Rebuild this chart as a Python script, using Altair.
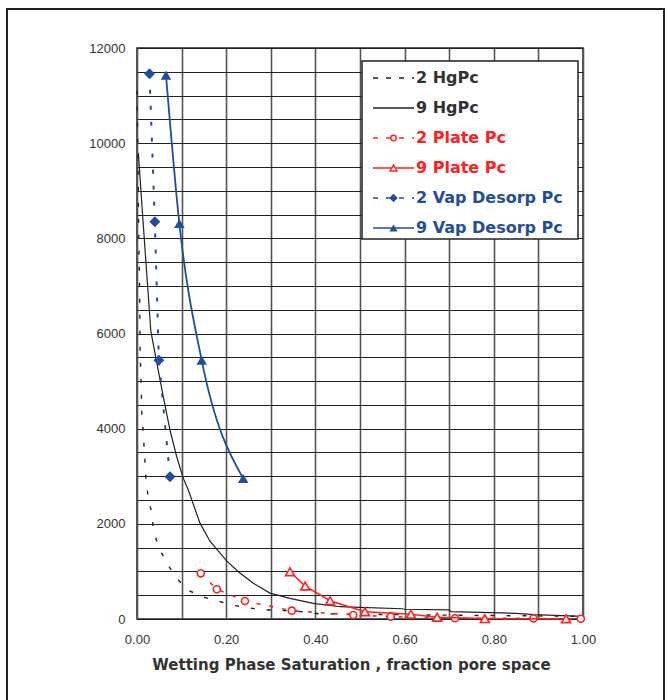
import altair as alt
import pandas as pd

# ---------------- data ----------------
hg2_sw = [0.000, 0.002, 0.004, 0.006, 0.007, 0.009, 0.011, 0.014, 0.016, 0.018, 0.020, 0.025,
          0.033, 0.037, 0.048, 0.067, 0.089, 0.113, 0.149, 0.186, 0.221, 0.257, 0.294, 0.336,
          0.369, 0.407, 0.500, 0.600, 0.700, 0.800, 0.900, 1.000]
hg2_pc = [11100, 9800, 8000, 6800, 5650, 4980, 4250, 3935, 3590, 3280, 2920, 2570,
          2220, 1870, 1520, 1170, 860, 610, 460, 365, 280, 225, 190, 175,
          155, 110, 100, 90, 80, 72, 65, 55]

hg9_sw = [0.003, 0.017, 0.031, 0.044, 0.059, 0.074, 0.089, 0.104, 0.115, 0.141, 0.164, 0.201,
          0.227, 0.261, 0.298, 0.343, 0.395, 0.455, 0.500, 0.595, 0.600, 0.700, 0.705, 0.850,
          0.890, 1.000]
hg9_pc = [9790, 7900, 6050, 5405, 4670, 3970, 3410, 2955, 2710, 2020, 1630, 1220,
          994, 750, 545, 435, 330, 258, 245, 215, 205, 190, 155, 120,
          90, 55]

plate2_sw = [0.143, 0.179, 0.242, 0.347, 0.485, 0.569, 0.713, 0.889, 0.995]
plate2_pc = [960, 624, 378, 175, 84, 50, 15, 12, 5]

plate9_sw = [0.343, 0.377, 0.433, 0.511, 0.614, 0.673, 0.780, 0.962]
plate9_pc = [994, 693, 384, 153, 99, 36, 8, 6]

vap2_sw = [0.028, 0.040, 0.049, 0.074]
vap2_pc = [11460, 8350, 5440, 2990]

vap9_sw = [0.065, 0.095, 0.145, 0.238]
vap9_pc = [11430, 8310, 5440, 2955]

series_names = ["2 HgPc", "9 HgPc", "2 Plate Pc", "9 Plate Pc", "2 Vap Desorp Pc", "9 Vap Desorp Pc"]
x_ticks = [round(i * 0.1, 1) for i in range(11)]
y_ticks = list(range(0, 12001, 500))

# ---------------- styling ----------------
BLACK = "#222222"
RED = "#ff2020"
BLUE = "#1f4e9e"

styles = [
    dict(sw=hg2_sw, pc=hg2_pc, color=BLACK, dash=[4, 12], width=1.4, shape=None, filled=False, size=0, interp="linear", ldash=[5, 8]),
    dict(sw=hg9_sw, pc=hg9_pc, color=BLACK, dash=None, width=1.2, shape=None, filled=False, size=0, interp="linear", ldash=None),
    dict(sw=plate2_sw, pc=plate2_pc, color=RED, dash=[4, 9], width=1.6, shape="circle", filled=False, size=50, interp="linear", ldash=[5, 8]),
    dict(sw=plate9_sw, pc=plate9_pc, color=RED, dash=None, width=1.5, shape="triangle-up", filled=False, size=80, interp="linear", ldash=None),
    dict(sw=vap2_sw, pc=vap2_pc, color=BLUE, dash=[4, 12], width=2.0, shape="diamond", filled=True, size=120, interp="linear", ldash=[5, 8]),
    dict(sw=vap9_sw, pc=vap9_pc, color=BLUE, dash=None, width=1.8, shape="triangle-up", filled=True, size=110, interp="monotone", ldash=None),
]

FONT = "Liberation Sans"
BOLDFONT = "DejaVu Sans"

x_enc = alt.X(
    "sw:Q",
    scale=alt.Scale(domain=[0, 1], nice=False, zero=False),
    axis=alt.Axis(
        values=x_ticks, format=".2f",
        labelExpr="round(datum.value*10) % 2 == 0 ? datum.label : ''",
        labelFlush=False,
        ticks=False, domain=False, labelPadding=14, labelFontSize=13, labelColor="#333333",
        labelFont=FONT, gridColor="#555555", gridWidth=1.6,
        title="Wetting Phase Saturation , fraction pore space",
        titleFont=BOLDFONT, titleFontSize=15, titleFontWeight="bold", titleColor="#333333",
        titlePadding=11, titleX=214,
    ),
)
y_enc = alt.Y(
    "pc:Q",
    scale=alt.Scale(domain=[0, 12000], nice=False),
    axis=alt.Axis(
        values=y_ticks, format="d",
        labelExpr="datum.value % 2000 == 0 ? datum.label : ''",
        labelFlush=False,
        ticks=False, domain=False, labelPadding=12, labelFontSize=13, labelColor="#333333",
        labelFont=FONT, gridColor="#222222", gridWidth=1, title=None,
    ),
)

layers = []
for name, st in zip(series_names, styles):
    df = pd.DataFrame({"sw": st["sw"], "pc": st["pc"], "i": range(len(st["sw"]))})
    line_kw = dict(color=st["color"], strokeWidth=st["width"], interpolate=st["interp"])
    if st["dash"]:
        line_kw["strokeDash"] = st["dash"]
    base = alt.Chart(df).encode(x=x_enc, y=y_enc, order="i:Q")
    layers.append(base.mark_line(**line_kw))
    if st["shape"]:
        pt_kw = dict(shape=st["shape"], size=st["size"], filled=st["filled"], color=st["color"],
                     opacity=1, strokeWidth=1.6)
        if not st["filled"]:
            pt_kw["fill"] = "white"
            pt_kw["fillOpacity"] = 1
        layers.append(base.mark_point(**pt_kw))

one = pd.DataFrame({"a": [0]})

# legend box
layers.append(
    alt.Chart(one).mark_rect(fill="white", stroke="#222222", strokeWidth=1.5).encode(
        x=alt.value(225), x2=alt.value(441), y=alt.value(13), y2=alt.value(191)
    )
)
row_y = [30, 60, 90, 120, 150, 180]
for name, st, yy in zip(series_names, styles, row_y):
    rk = dict(color=st["color"], strokeWidth=1.4)
    if st["ldash"]:
        rk["strokeDash"] = st["ldash"]
    layers.append(alt.Chart(one).mark_rule(**rk).encode(
        x=alt.value(236), x2=alt.value(277), y=alt.value(yy)))
    if st["shape"]:
        pk = dict(shape=st["shape"], size=st["size"] * 0.6, filled=st["filled"], color=st["color"],
                  opacity=1, strokeWidth=1.4)
        if not st["filled"]:
            pk["fill"] = "white"
            pk["fillOpacity"] = 1
        layers.append(alt.Chart(one).mark_point(**pk).encode(x=alt.value(256.5), y=alt.value(yy)))
    layers.append(alt.Chart(one).mark_text(
        text=name, align="left", baseline="middle", font=BOLDFONT, fontSize=16, fontWeight="bold",
        color=("#333333" if st["color"] == BLACK else st["color"])
    ).encode(x=alt.value(279), y=alt.value(yy)))

# outer frame
layers.append(
    alt.Chart(one).mark_rect(fill="transparent", stroke="#222222", strokeWidth=2).encode(
        x=alt.value(-130), x2=alt.value(527), y=alt.value(-39), y2=alt.value(700)
    )
)

chart = alt.layer(*layers).properties(
    width=446, height=571,
    padding={"left": 137, "top": 48, "right": 89, "bottom": 81},
    autosize=alt.AutoSizeParams(type="none"),
    background="white",
).configure_view(stroke="#222222", strokeWidth=1.5)

chart.save("out.html", embed_options={"renderer": "svg", "actions": False})
